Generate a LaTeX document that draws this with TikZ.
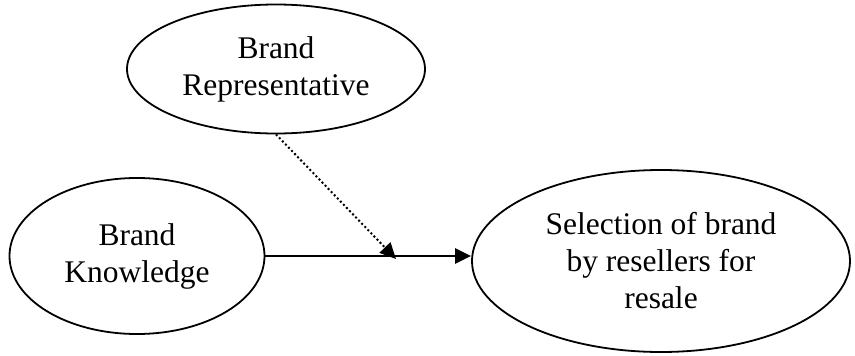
\documentclass[tikz,border=0pt]{standalone}
\usepackage{fontspec}
\setmainfont{Liberation Serif}
\usetikzlibrary{positioning, arrows.meta, shapes.geometric}

\begin{document}
\begin{tikzpicture}[
    x=1pt, y=-1pt,
    >={Triangle[length=16pt,width=15pt]},
    every node/.style={font=\fontsize{31.5}{37}\selectfont, align=center},
    factor/.style={draw, ellipse, line width=1.8pt, inner sep=0pt},
    link/.style={->, line width=2.4pt},
    moderator/.style={->, line width=2pt, dash pattern=on 2pt off 2.4pt}
]
    \useasboundingbox (0,0) rectangle (855,356);
    \node[factor, minimum width=298pt, minimum height=129pt] (rep) at (276,69) {Brand\\Representative};
    \node[factor, minimum width=255pt, minimum height=156pt] (know) at (137,256) {Brand\\Knowledge};
    \node[factor, minimum width=378pt, minimum height=182pt] (sel) at (661,261) {Selection of brand\\by resellers for\\resale};
    \coordinate (meet) at (396,259);

    \draw[link] (know.east) -- (know.east -| sel.west);
    \draw[moderator] (rep.south) -- (meet);
\end{tikzpicture}
\end{document}
